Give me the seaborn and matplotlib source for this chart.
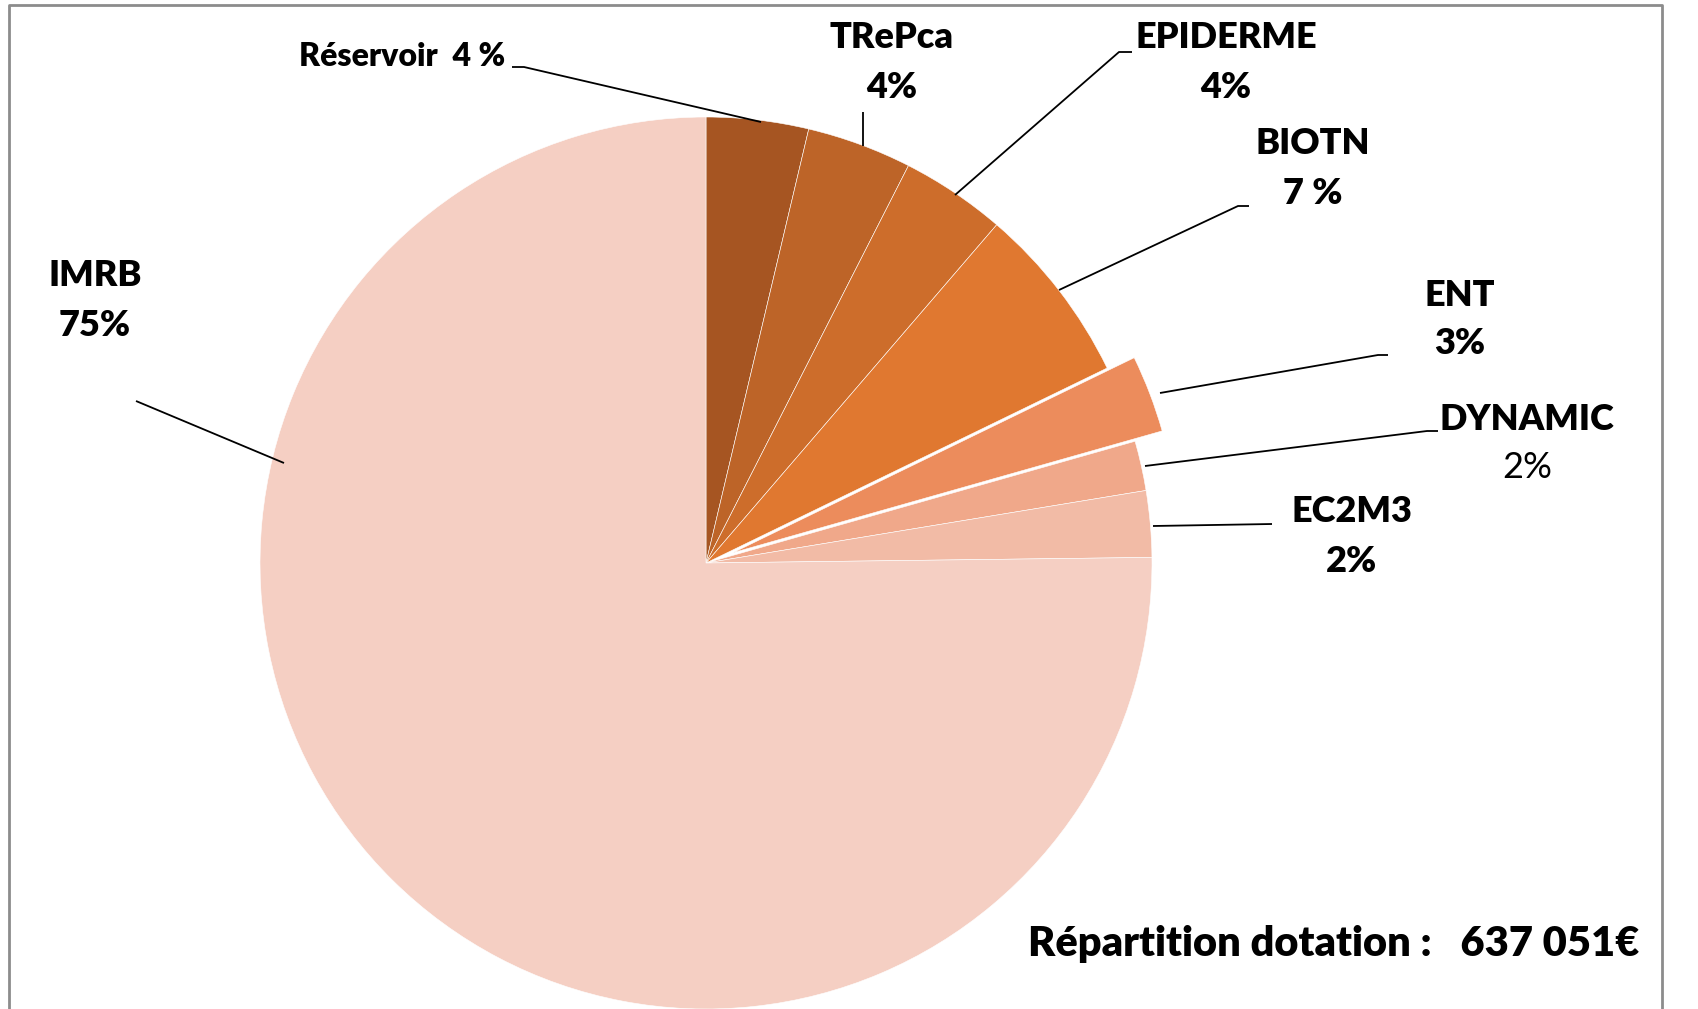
import matplotlib.pyplot as plt
import seaborn as sns

# Data (shares of the 637 051 EUR budget, clockwise from 12 o'clock)
teams = ['Réservoir', 'TRePca', 'EPIDERME', 'BIOTN', 'ENT', 'DYNAMIC', 'EC2M3', 'IMRB']
shares = [3.7, 3.8, 3.8, 6.5, 2.8, 1.8, 2.4, 75.2]
pct_labels = ['4 %', '4%', '4%', '7 %', '3%', '2%', '2%', '75%']
explode = [0, 0, 0, 0, 0.065, 0, 0, 0]
colors = ['#A65522', '#BD6428', '#CD6D2B', '#E07830',
          '#EC8C5C', '#F0A88A', '#F2BBA6', '#F5CFC3']

W, H = 1698, 1009
R = 446

sns.set_theme(style='white')
plt.rcParams['font.family'] = ['Lato', 'DejaVu Sans']

fig = plt.figure(figsize=(W / 100, H / 100), dpi=100)
ax = fig.add_axes([0, 0, 1, 1])

pal = sns.color_palette(colors)
# explode is in data units here, so scale the fractions by the radius
ax.pie(shares, colors=pal, startangle=90, counterclock=False,
       explode=[e * R for e in explode],
       center=(706, H - 563), radius=R, frame=True,
       wedgeprops=dict(linewidth=0.4, edgecolor='white'))
ax.set_xlim(0, W)
ax.set_ylim(0, H)
ax.set_aspect('equal')
ax.axis('off')


def Y(y):
    return H - y


# label layout: (x, y of first line, y of second line or None, leader path)
layout = {
    'Réservoir': (402, 56, None, [(512, 67), (524, 67), (761, 122)]),
    'TRePca': (892, 38, 87, [(863, 112), (863, 146)]),
    'EPIDERME': (1226, 38, 87, [(1132, 52), (1119, 52), (955, 195)]),
    'BIOTN': (1313, 143, 194, [(1249, 206), (1238, 206), (1059, 290)]),
    'ENT': (1460, 295, 344, [(1388, 355), (1378, 355), (1160, 393)]),
    'DYNAMIC': (1527, 419, 468, [(1438, 431), (1427, 431), (1145, 466)]),
    'EC2M3': (1352, 512, 561, [(1272, 524), (1153, 526)]),
    'IMRB': (95, 276, 325, [(136, 401), (284, 463)]),
}

for name, pct in zip(teams, pct_labels):
    x, y1, y2, path = layout[name]
    if y2 is None:
        ax.text(x, Y(y1), f'{name}  {pct}', ha='center', va='center',
                fontsize=23, fontweight='heavy', color='black')
    else:
        ax.text(x, Y(y1), name, ha='center', va='center',
                fontsize=26, fontweight='heavy', color='black')
        ax.text(x, Y(y2), pct, ha='center', va='center', fontsize=26,
                fontweight='normal' if name == 'DYNAMIC' else 'heavy', color='black')
    xs = [p[0] for p in path]
    ys = [Y(p[1]) for p in path]
    ax.plot(xs, ys, color='black', lw=1.3, solid_capstyle='butt')

ax.text(1334, Y(944), 'Répartition dotation :   637 051€', ha='center', va='center',
        fontsize=30, fontweight='heavy', color='black')

# slide frame
ax.plot([9, 9, 1662, 1662], [0, Y(5), Y(5), 0], color='#8C8C8C', lw=2)

fig.savefig('out.png', dpi=100, facecolor='white')
